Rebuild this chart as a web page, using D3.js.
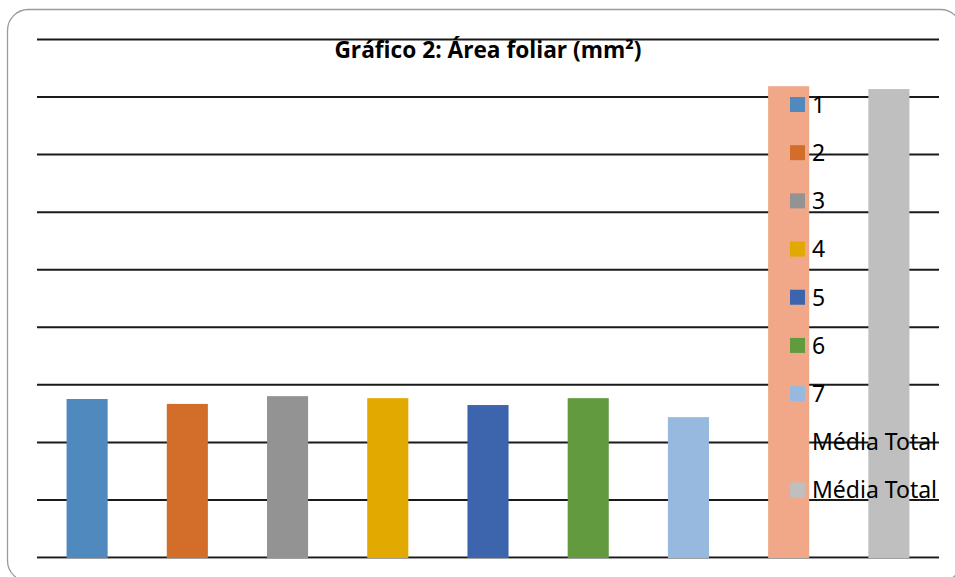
<!DOCTYPE html>
<html>
<head>
<meta charset="utf-8">
<script src="https://cdn.jsdelivr.net/npm/d3@7"></script>
<style>
  html, body { margin: 0; padding: 0; background: #fff; }
  svg { display: block; }
</style>
</head>
<body>
<svg id="chart" width="955" height="577"></svg>
<script>
// Leaf area per group, plus the overall mean
const categories = ["1", "2", "3", "4", "5", "6", "7", "Média Total", "Média Total"];
const values = [27.45, 26.6, 27.95, 27.6, 26.4, 27.6, 24.3, 81.8, 81.3];
const colors = ["#4f89bd", "#d36e2a", "#939393", "#e2a900", "#3c65ad", "#629a3f", "#98b9df", "#f1a889", "#bfbfbf"];
const gridTicks = [0, 10, 20, 30, 40, 50, 60, 70, 80, 90];
const title = "Gráfico 2: Área foliar (mm²)";

const svg = d3.select("#chart");

// Chart area frame with rounded corners
svg.append("rect")
  .attr("x", 7.5).attr("y", 9.5)
  .attr("width", 954).attr("height", 572)
  .attr("rx", 21).attr("ry", 21)
  .attr("fill", "#fff")
  .attr("stroke", "#9a9a9a")
  .attr("stroke-width", 1.3);

const plot = { left: 37, right: 939, top: 39, bottom: 557 };

const x = d3.scaleBand()
  .domain(d3.range(categories.length))
  .range([plot.left, plot.right])
  .paddingInner(0.59)
  .paddingOuter(0.295);

const y = d3.scaleLinear()
  .domain([0, 90])
  .range([plot.bottom, plot.top]);

// Horizontal gridlines
const yAxis = d3.axisLeft(y)
  .tickValues(gridTicks)
  .tickSize(-(plot.right - plot.left))
  .tickFormat("");
const grid = svg.append("g")
  .attr("transform", `translate(${plot.left},0)`)
  .call(yAxis);
grid.select(".domain").remove();
grid.selectAll(".tick line")
  .attr("stroke", "#1a1a1a")
  .attr("stroke-width", 2);

// Category axis line
svg.append("line")
  .attr("x1", plot.left).attr("x2", plot.right)
  .attr("y1", y(0) + 1.5).attr("y2", y(0) + 1.5)
  .attr("stroke", "#a0a0a0").attr("stroke-width", 1);

// Bars
svg.append("g").selectAll("rect")
  .data(values)
  .join("rect")
  .attr("x", (d, i) => x(i))
  .attr("y", d => y(d))
  .attr("width", x.bandwidth())
  .attr("height", d => y(0) + 1 - y(d))
  .attr("fill", (d, i) => colors[i]);

// Title
svg.append("text")
  .attr("x", (plot.left + plot.right) / 2)
  .attr("y", 58)
  .attr("text-anchor", "middle")
  .attr("font-family", "'Open Sans', 'Noto Sans', sans-serif")
  .attr("font-weight", 700)
  .attr("font-size", 22.7)
  .attr("fill", "#000")
  .text(title);

// Legend
const legendY = d3.scalePoint()
  .domain(d3.range(categories.length))
  .range([104.5, 490]);

const legend = svg.append("g").selectAll("g")
  .data(categories)
  .join("g")
  .attr("transform", (d, i) => `translate(790,${legendY(i)})`);

legend.append("rect")
  .attr("x", 0).attr("y", -7.5)
  .attr("width", 15).attr("height", 15)
  .attr("fill", (d, i) => colors[i]);

legend.append("text")
  .attr("x", 22).attr("y", 0)
  .attr("dy", "0.36em")
  .attr("font-family", "'Noto Sans', sans-serif")
  .attr("font-size", 23)
  .attr("fill", "#000")
  .text(d => d);
</script>
</body>
</html>
